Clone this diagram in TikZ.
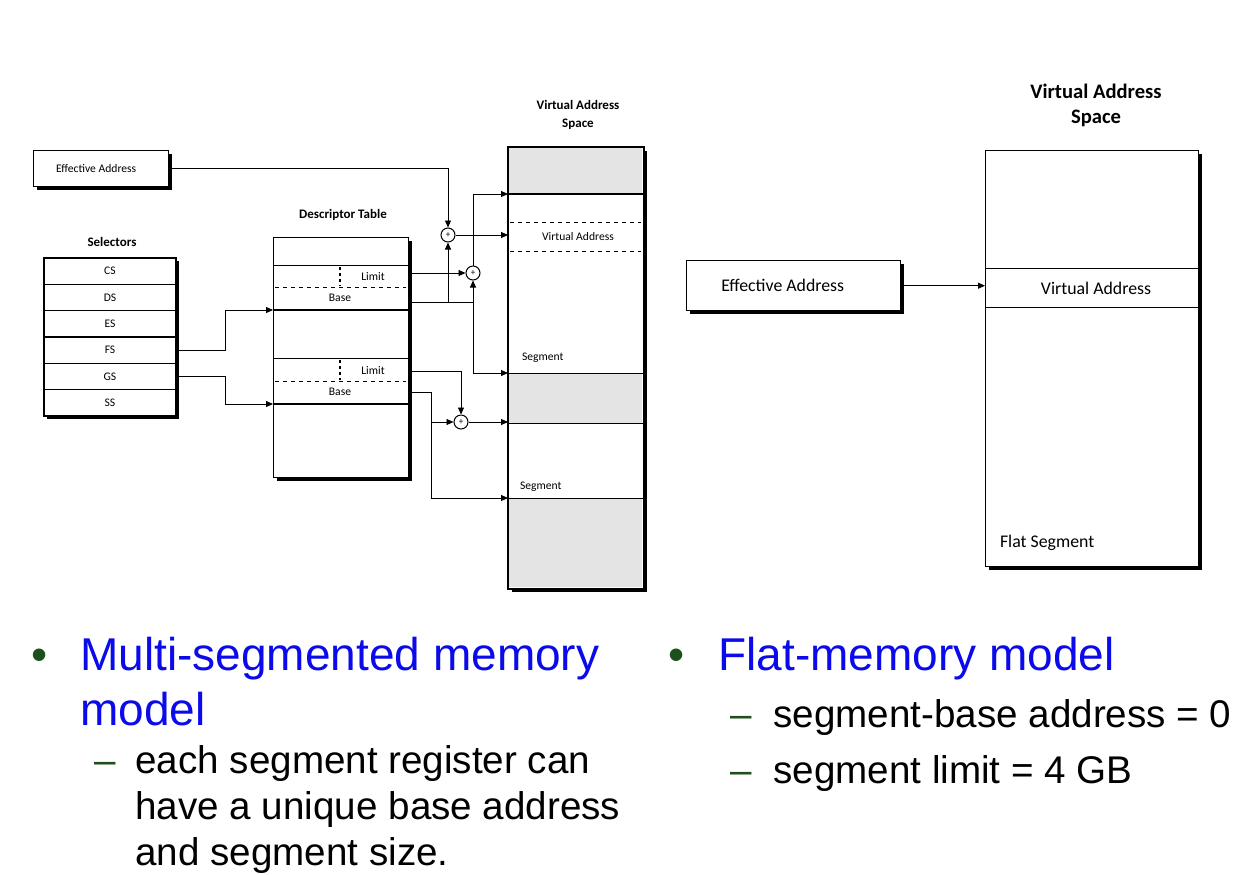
\documentclass[tikz,border=0pt]{standalone}
\usepackage{fontspec}
\setmainfont{Liberation Sans}
\newfontfamily\figfont{Carlito}
\usetikzlibrary{arrows.meta,shadows}
\definecolor{bulletgreen}{RGB}{30,80,30}
\definecolor{slideblue}{RGB}{10,10,235}
\definecolor{segshade}{RGB}{228,228,228}
\begin{document}
\begin{tikzpicture}[x=0.5pt,y=-0.5pt,
  smalltxt/.style={font=\figfont\fontsize{5.8}{6.8}\selectfont},
  ttl/.style={font=\figfont\bfseries\fontsize{6.5}{9}\selectfont,align=center},
  bigtxt/.style={font=\figfont\fontsize{8.9}{10}\selectfont},
  bigttl/.style={font=\figfont\bfseries\fontsize{10.3}{12.5}\selectfont,align=center},
  box/.style={draw,fill=white,line width=0.7pt,inner sep=0pt,anchor=north west,
    drop shadow={shadow xshift=1.5pt,shadow yshift=-1.5pt,fill=black,opacity=1}},
  selrow/.style={draw,fill=white,line width=0.6pt,inner sep=0pt,
    minimum width=66pt,minimum height=13.17pt,smalltxt,
    drop shadow={shadow xshift=1.5pt,shadow yshift=-1.5pt,fill=black,opacity=1}},
  adder/.style={draw,circle,fill=white,inner sep=0pt,minimum size=7pt,line width=0.5pt,
    font=\figfont\fontsize{4.5}{5}\selectfont},
  conn/.style={-{Triangle[length=3.5pt,width=3pt]},line width=0.45pt},
  wire/.style={line width=0.45pt},
  dashln/.style={line width=0.5pt,dash pattern=on 2pt off 2pt},
  dotln/.style={line width=0.7pt,dash pattern=on 1.5pt off 1.5pt},
  slide/.style={anchor=base west,inner sep=0pt,font=\fontsize{23}{27.5}\selectfont,text=slideblue},
  sub/.style={anchor=base west,inner sep=0pt,font=\fontsize{19.3}{23}\selectfont},
  bulletmk/.style={anchor=base,inner sep=0pt,text=bulletgreen}]
\useasboundingbox (0,0) rectangle (1259,874);

% left: multi-segment model
\node[box,minimum width=67.5pt,minimum height=18pt,smalltxt] (ea) at (33,150) {Effective Address\kern5pt};
\node[ttl] (seltitle) at (112,242) {Selectors};
\foreach \r [count=\i] in {CS,DS,ES,FS,GS,SS} {
  \node[selrow] (\r) at (110,{258+26.33*(\i-0.5)}) {\r};
}
\node[ttl] (dttitle) at (343,215) {Descriptor Table};
\node[box,minimum width=67.5pt,minimum height=120pt] (dt) at (273,237) {};
\foreach \y in {265,358} \draw[wire] (273,\y) -- (408,\y);
\foreach \y in {310,404} \draw[line width=0.7pt] (273,\y) -- (408,\y);
\foreach \y in {287,381} \draw[dashln] (275,\y) -- (406,\y);
\draw[dotln] (340,267) -- (340,286);
\draw[dotln] (340,360) -- (340,380);
\node[smalltxt] (lim1) at (373,277) {Limit};
\node[smalltxt] (bas1) at (340,298) {Base};
\node[smalltxt] (lim2) at (373,371) {Limit};
\node[smalltxt] (bas2) at (340,392) {Base};

\node[ttl] (vastitle) at (578,115) {Virtual Address\\Space};
\node[box,minimum width=67.5pt,minimum height=220.5pt] (vas) at (508,147) {};
\fill[segshade] (509,148) rectangle (642,194);
\fill[segshade] (509,373) rectangle (642,423);
\fill[segshade] (509,498) rectangle (642,587);
\draw[line width=0.7pt] (508,194) -- (643,194);
\foreach \y in {373,423,498} \draw[wire] (508,\y) -- (643,\y);
\foreach \y in {222,251} \draw[dashln] (510,\y) -- (641,\y);
\draw[line width=0.7pt] (vas.north west) rectangle (vas.south east);
\node[smalltxt] (valabel) at (578,237) {Virtual Address};
\node[smalltxt,anchor=west] (seg1) at (515,358) {Segment};
\node[smalltxt,anchor=west] (seg2) at (513,487) {Segment};

\node[adder] (add1) at (448,235) {+};
\node[adder] (add2) at (473,273) {+};
\node[adder] (add3) at (461,422) {+};

\coordinate (l1) at (408,273);
\coordinate (b1) at (408,302);
\coordinate (l2) at (408,371);
\coordinate (b2) at (408,392);
\coordinate (k2) at (431,392);
\coordinate (s0) at (508,194);
\coordinate (s1) at (508,373);
\coordinate (s2) at (508,498);
\coordinate (d1) at (273,310);
\coordinate (d2) at (273,404);

\draw[conn] (ea.east) -| (add1.north);
\draw[conn] (add1.east) -- (add1.east -| vas.west);
\draw[conn] (l1) -- (add2.west);
\draw[wire] (b1) -- (b1 -| add2);
\draw[conn] (b1 -| add1) -- (add1.south);
\draw[conn] (b1 -| add2) -- (add2.south);
\draw[conn] (b1 -| add2) |- (s1);
\draw[conn] (add2.north) |- (s0);
\draw[conn] (l2) -| (add3.north);
\draw[wire] (b2) -- (k2);
\draw[conn] (k2) |- (s2);
\draw[conn] (k2 |- add3) -- (add3.west);
\draw[conn] (add3.east) -- (add3.east -| vas.west);
\draw[conn] (FS.east) -- ++(49,0) |- (d1);
\draw[conn] (GS.east) -- ++(49,0) |- (d2);

% right: flat model
\node[bigttl] (flattitle) at (1096,105) {Virtual Address\\Space};
\node[box,minimum width=106.5pt,minimum height=208pt] (flat) at (985,150) {};
\draw[wire] (985,268) -- (1198,268);
\draw[wire] (985,307) -- (1198,307);
\node[bigtxt] (flatva) at (1096,288) {Virtual Address};
\node[bigtxt,anchor=west] (flatseg) at (993,543) {Flat Segment};
\node[box,minimum width=107pt,minimum height=25pt,bigtxt] (ea2) at (686,260) {Effective Address\kern11pt};
\draw[conn] (ea2.east) -- (ea2.east -| flat.west);

% bullets
\node[bulletmk,font=\fontsize{23}{27.5}\selectfont] (dot1) at (40,670) {•};
\node[slide] (multi1) at (80,670) {Multi-segmented memory};
\node[slide] (multi2) at (80,725) {model};
\node[bulletmk,font=\fontsize{19.3}{23}\selectfont] (dash1) at (105,773) {–};
\node[sub] (each1) at (135,773) {each segment register can};
\node[sub] (each2) at (135,819) {have a unique base address};
\node[sub] (each3) at (135,865) {and segment size.};
\node[bulletmk,font=\fontsize{23}{27.5}\selectfont] (dot2) at (677,670) {•};
\node[slide] (flatm) at (718,670) {Flat-memory model};
\node[bulletmk,font=\fontsize{19.3}{23}\selectfont] (dash2) at (741,727) {–};
\node[sub] (base0) at (773,727) {segment-base address = 0};
\node[bulletmk,font=\fontsize{19.3}{23}\selectfont] (dash3) at (741,783) {–};
\node[sub] (lim4) at (773,783) {segment limit = 4 GB};
\end{tikzpicture}
\end{document}
